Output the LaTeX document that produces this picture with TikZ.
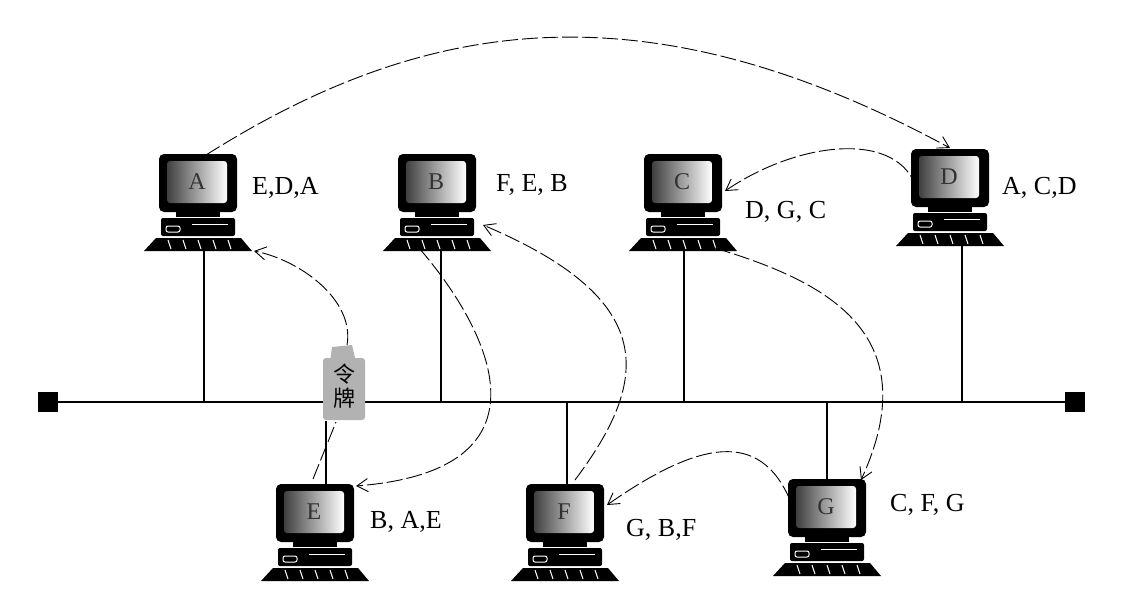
\documentclass[tikz,border=0pt]{standalone}
\usepackage{fontspec}
\setmainfont{Liberation Serif}
\newfontfamily\cjk{Noto Sans CJK SC}
\usetikzlibrary{arrows.meta,calc}
\tikzset{
 lnk/.style={draw, line width=0.9pt, dash pattern=on 16pt off 4pt, -{Straight Barb[length=11pt,width=13pt]}},
 bus/.style={line width=1.4pt},
 lbl/.style={font=\fontsize{26}{28}\selectfont, anchor=west, inner sep=0pt},
 mon/.style={minimum width=78pt, minimum height=58pt, inner sep=0pt, font=\fontsize{24}{26}\selectfont},
}
\newcommand\comp[3]{%
 \node[mon] (#1) at (#2) {};
 \begin{scope}[shift={(#2)}]
  \fill[black,rounded corners=5pt] (-39,-29) rectangle (39,29);
  \shade[left color=black!75, right color=white, rounded corners=3pt] (-31,-22) rectangle (29,20);
  \node[font=\fontsize{24}{26}\selectfont, text=black!80] at (-1,-1) {#3};
  \fill (-22,29) rectangle (22,34);
  \fill[rounded corners=2pt] (-37,35) rectangle (37,53);
  \draw[white,line width=1pt,rounded corners=2pt] (-32,43) rectangle (-18,49);
  \draw[white,line width=1pt] (-6,41) -- (30,41);
  \fill (-42,55) -- (43,55) -- (54,68) -- (-54,68) -- cycle;
  \foreach \u in {-30,-15,0,15,30} \draw[white,line width=1pt] (\u,57) -- (\u+3,66);
 \end{scope}}
\begin{document}
\begin{tikzpicture}[x=1pt,y=-1pt]
\useasboundingbox[fill=white] (0,0) rectangle (1125,600);
% bus
\node[fill=black,minimum size=20pt,inner sep=0pt] (L) at (48,402) {};
\node[fill=black,minimum size=20pt,inner sep=0pt] (R) at (1075,402) {};
\draw[bus] (L) -- (R);
% computers
\comp{A}{198,183}{A}
\comp{B}{437,183}{B}
\comp{C}{683,183}{C}
\comp{D}{950,178}{D}
\comp{E}{315,513}{E}
\comp{F}{565,513}{F}
\comp{G}{827,508}{G}
% drops
\draw[bus] ($(A)+(6,68)$) -- (204,402);
\draw[bus] ($(B)+(4,68)$) -- (441,402);
\draw[bus] ($(C)+(1,68)$) -- (684,402);
\draw[bus] ($(D)+(12,68)$) -- (962,402);
\draw[bus] (567,402) -- ($(F)+(2,-29)$);
\draw[bus] (827,402) -- ($(G)+(0,-29)$);
% token
\node[draw=none,fill=black!30,rounded corners=3pt,minimum width=42pt,minimum height=62pt,inner sep=0pt] (T) at (344,389) {};
\fill[black!30] (330,362) -- (332,347) -- (352,345) -- (356,362) -- cycle;
\node[font=\cjk\fontsize{22}{26}\selectfont, align=center, inner sep=0pt] at (344,386) {令\\[-2pt]牌};
\draw[bus] (326,421) -- ($(E)+(11,-29)$);
% labels
\node[lbl] (la) at (252,188) {E,D,A};
\node[lbl] (lb) at (496,185) {F, E, B};
\node[lbl] (lc) at (745,212) {D, G, C};
\node[lbl] (ld) at (1002,188) {A, C,D};
\node[lbl] (le) at (370,522) {B, A,E};
\node[lbl] (lf) at (626,530) {G, B,F};
\node[lbl] (lg) at (890,505) {C, F, G};
% token passing links
\draw[lnk] ($(A)+(8,-28)$) .. controls (420,20) and (640,-20) .. ($(D)+(0,-30)$);
\draw[lnk] ($(D)+(-33,12)$) .. controls (900,130) and (800,140) .. ($(C)+(42,8)$);
\draw[lnk] ($(C)+(32,65)$) .. controls (820,280) and (930,330) .. ($(G)+(34,-28)$);
\draw[lnk] ($(G)+(-37,-8)$) .. controls (760,430) and (700,440) .. ($(F)+(42,-8)$);
\draw[lnk] ($(F)+(10,-33)$) .. controls (650,380) and (660,300) .. ($(B)+(46,42)$);
\draw[lnk] ($(B)+(-18,65)$) .. controls (490,330) and (560,470) .. ($(E)+(41,-27)$);
\draw[line width=0.9pt, dash pattern=on 16pt off 4pt] ($(E)+(-2,-34)$) -- (336,422);
\draw[lnk] (347,345) .. controls (355,300) and (300,260) .. ($(A)+(56,68)$);
\end{tikzpicture}
\end{document}
